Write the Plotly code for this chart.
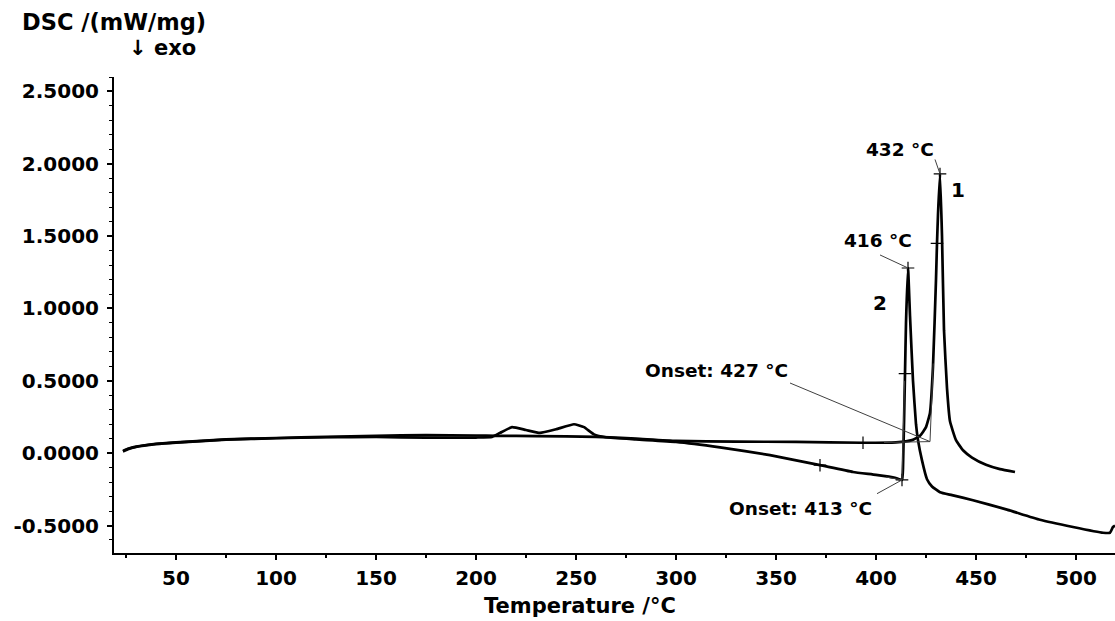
import plotly.graph_objects as go

# DSC run 1 (main peak at 432 °C)
temp_1 = [23.5, 26, 30, 40, 50, 75, 100, 125, 150, 175, 200, 210, 230, 260, 280, 300,
          330, 360, 393.5, 410, 418, 422, 425, 427, 428.5, 430, 430.5, 431, 432, 433,
          434, 435.5, 437, 440, 443.5, 448, 455, 462, 469.5]
dsc_1 = [0.015, 0.03, 0.045, 0.065, 0.075, 0.095, 0.105, 0.112, 0.12, 0.125, 0.122, 0.12,
         0.118, 0.113, 0.1, 0.085, 0.08, 0.078, 0.072, 0.075, 0.09, 0.12, 0.18, 0.28,
         0.6, 1.2, 1.45, 1.65, 1.93, 1.5, 0.85, 0.45, 0.22, 0.09, 0.02, -0.03, -0.08,
         -0.11, -0.13]

# DSC run 2 (main peak at 416 °C)
temp_2 = [23.5, 26, 30, 40, 50, 75, 100, 125, 150, 175, 200, 208, 212, 218, 225, 232,
          240, 249, 254, 259, 265, 280, 300, 322, 347, 372, 388.5, 400, 409.5, 413,
          413.5, 414.5, 415, 416, 417, 418.5, 420, 421, 423, 425.5, 428, 432, 438,
          448.5, 465.5, 482, 498.5, 513.5, 517, 518.5, 519.5]
dsc_2 = [0.012, 0.028, 0.043, 0.062, 0.073, 0.093, 0.103, 0.11, 0.112, 0.107, 0.108,
         0.112, 0.14, 0.18, 0.16, 0.14, 0.165, 0.2, 0.18, 0.13, 0.11, 0.095, 0.078,
         0.04, -0.014, -0.083, -0.13, -0.15, -0.17, -0.185, -0.1, 0.55, 0.9, 1.28, 0.95,
         0.5, 0.2, 0.09, -0.05, -0.18, -0.23, -0.27, -0.29, -0.325, -0.39, -0.46,
         -0.51, -0.55, -0.55, -0.51, -0.5]

# characteristic points
peak_temps = [432, 416]
peak_dsc = [1.93, 1.28]
onset_temps = [427, 413]
onset_dsc = [0.08, -0.185]

# evaluation cross marks along the curves
cross_t_1 = [393.5, 430.5, 432]
cross_v_1 = [0.072, 1.45, 1.93]
cross_t_2 = [372, 413, 414.5, 416]
cross_v_2 = [-0.083, -0.185, 0.55, 1.28]

x_ticks = list(range(50, 501, 50))
y_ticks = [-0.5, 0.0, 0.5, 1.0, 1.5, 2.0, 2.5]

FONT = "DejaVu Sans, Liberation Sans, sans-serif"
BLACK = "#000000"
THIN = "#404040"

W, H = 1115, 621
ML, MR, MT, MB = 114, 0, 77, 68
X_RANGE = [19, 519.5]
Y_RANGE = [-0.69, 2.60]


def px_to_paper(px, py):
    pw = W - ML - MR
    ph = H - MT - MB
    return (px - ML) / pw, (H - MB - py) / ph


def bold(size):
    return dict(family=FONT, size=size, color=BLACK, weight="bold")


fig = go.Figure()

for t, v in ((temp_1, dsc_1), (temp_2, dsc_2)):
    fig.add_trace(go.Scatter(x=t, y=v, mode="lines",
                             line=dict(color=BLACK, width=2.7, shape="spline", smoothing=0.4),
                             hoverinfo="skip", showlegend=False))

for t, v in ((cross_t_1, cross_v_1), (cross_t_2, cross_v_2)):
    fig.add_trace(go.Scatter(x=t, y=v, mode="markers",
                             marker=dict(symbol="cross-thin", size=9,
                                         line=dict(color=BLACK, width=1.2)),
                             hoverinfo="skip", showlegend=False))

# onset construction: baseline extensions and inflection tangents
fig.add_shape(type="line", x0=404, y0=0.074, x1=onset_temps[0], y1=onset_dsc[0],
              line=dict(color=THIN, width=1))
fig.add_shape(type="line", x0=onset_temps[0], y0=onset_dsc[0], x1=428.6, y1=0.62,
              line=dict(color=THIN, width=1))
fig.add_shape(type="line", x0=405, y0=-0.165, x1=onset_temps[1], y1=onset_dsc[1],
              line=dict(color=THIN, width=1))
fig.add_shape(type="line", x0=onset_temps[1], y0=onset_dsc[1], x1=414.3, y1=0.5,
              line=dict(color=THIN, width=1))

# leader lines from labels to their points
leaders = [
    (429.5, 2.03, peak_temps[0], peak_dsc[0]),
    (402.0, 1.37, peak_temps[1], peak_dsc[1]),
    (357.0, 0.485, onset_temps[0], onset_dsc[0]),
    (400.5, -0.28, onset_temps[1], onset_dsc[1]),
]
for x0, y0, x1, y1 in leaders:
    fig.add_shape(type="line", x0=x0, y0=y0, x1=x1, y1=y1,
                  line=dict(color=THIN, width=1))

labels = [
    (412, 2.10, f"{peak_temps[0]} °C", 18.5),
    (441, 1.82, "1", 20),
    (401, 1.47, f"{peak_temps[1]} °C", 18.5),
    (402, 1.04, "2", 20),
    (320, 0.57, f"Onset: {onset_temps[0]} °C", 18.5),
    (362, -0.38, f"Onset: {onset_temps[1]} °C", 18.5),
]
for x, y, text, size in labels:
    fig.add_annotation(x=x, y=y, text=text, showarrow=False, xanchor="center",
                       yanchor="middle", font=bold(size))

# axis titles
tx, ty = px_to_paper(20, 22)
fig.add_annotation(xref="paper", yref="paper", x=tx, y=ty, text="DSC /(mW/mg)",
                   showarrow=False, xanchor="left", yanchor="middle", font=bold(22.5))
tx, ty = px_to_paper(127, 48)
fig.add_annotation(xref="paper", yref="paper", x=tx, y=ty, text="↓ exo",
                   showarrow=False, xanchor="left", yanchor="middle", font=bold(21))
tx, ty = px_to_paper(580, 606)
fig.add_annotation(xref="paper", yref="paper", x=tx, y=ty, text="Temperature /°C",
                   showarrow=False, xanchor="center", yanchor="middle", font=bold(21))

fig.update_xaxes(range=X_RANGE, tickvals=x_ticks, ticktext=[str(v) for v in x_ticks],
                 showline=True, linecolor=BLACK, linewidth=2, ticks="outside",
                 ticklen=5, tickwidth=1.5, tickcolor=BLACK, tickfont=bold(20),
                 showgrid=False, zeroline=False, ticklabelstandoff=1,
                 minor=dict(tickvals=list(range(25, 520, 50)), ticks="outside",
                            ticklen=3, tickwidth=1.5, tickcolor=BLACK, showgrid=False))
fig.update_yaxes(range=Y_RANGE, tickvals=y_ticks, ticktext=[f"{v:.4f}" for v in y_ticks],
                 showline=True, linecolor=BLACK, linewidth=2, ticks="outside",
                 ticklen=5, tickwidth=1.5, tickcolor=BLACK, tickfont=bold(20),
                 showgrid=False, zeroline=False, ticklabelstandoff=4,
                 minor=dict(dtick=0.1, ticks="outside", ticklen=3, tickwidth=1.2,
                            tickcolor=BLACK, showgrid=False))

fig.update_layout(width=W, height=H, margin=dict(l=ML, r=MR, t=MT, b=MB),
                  plot_bgcolor="white", paper_bgcolor="white", showlegend=False)

fig.write_html("out.html")
